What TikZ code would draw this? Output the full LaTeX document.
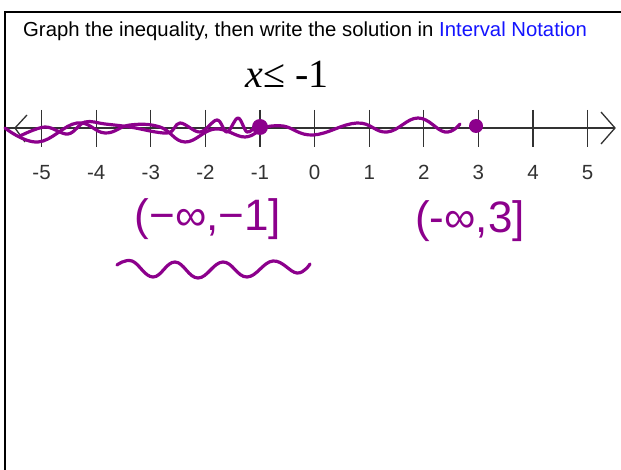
\documentclass[tikz,border=0pt]{standalone}
\usepackage{fontspec}
\setmainfont{Liberation Sans}
\newfontfamily\timesf{Liberation Serif}
\definecolor{ink}{RGB}{140,0,140}
\definecolor{axisgray}{RGB}{50,50,50}
\definecolor{notblue}{RGB}{20,20,255}
\begin{document}
\begin{tikzpicture}[x=1pt,y=-1pt,
  inkline/.style={draw=ink,line width=3.2pt,line cap=round,line join=round},
  tickmark/.style={draw=axisgray,line width=1.3pt},
  ticklabel/.style={text=axisgray,font=\fontsize{20.5}{22}\selectfont,inner sep=0pt,anchor=base},
  inktext/.style={text=ink,inner sep=0pt}]
\useasboundingbox (0,0) rectangle (621,470);
\fill[white] (0,0) rectangle (621,470);
% frame
\draw[line width=2pt] (5,471) -- (5,12) -- (622,12);
% title
\node[anchor=base west,inner sep=0pt,font=\fontsize{20.3}{24}\selectfont] (title) at (23,37)
  {Graph the inequality, then write the solution in \textcolor{notblue}{Interval Notation}};
\node[anchor=base,inner sep=0pt,font=\timesf\fontsize{40}{44}\selectfont] (ineq) at (287,88)
  {\textit{x}≤ -1};
% number line
\coordinate (left) at (5,128);
\coordinate (right) at (615,128);
\draw[draw=axisgray,line width=1.3pt] (left) -- (right);
\draw[draw=axisgray,line width=1.3pt] (27,115) -- (15,128) -- (25,142);
\draw[draw=axisgray,line width=1.3pt] (601,112) -- (615,128) -- (601,144);
\foreach \n in {-5,...,5}{
  \pgfmathsetmacro{\xx}{314.6+54.6*\n}
  \draw[tickmark] (\xx,110) -- (\xx,147);
  \node[ticklabel] (lab\n) at (\xx,180) {\ifnum\n<0 -\the\numexpr-\n\relax\else\n\fi};
}
% ink squiggles on the line
\draw[inkline] plot[smooth,tension=0.7] coordinates {(5,128) (38,142) (77,123) (105,133) (130,125) (160,127) (185,142) (215,129) (245,137) (261,128)};
\draw[inkline] plot[smooth,tension=0.6] coordinates {(20,136) (45,127) (68,134) (85,122) (105,124) (130,127) (167,133) (180,123) (200,132) (217,120) (227,132) (238,118) (247,132) (256,126)};
\draw[inkline] plot[smooth,tension=0.7] coordinates {(261,128) (283,126) (313,135) (357,123) (387,132) (418,118) (445,132) (460,124)};
\fill[ink] (260,127) circle (8);
\fill[ink] (476,126) circle (7);
% intervals
\node[inktext,font=\fontsize{44}{48}\selectfont] (int1) at (208,219) {(−∞,−1]};
\node[inktext,font=\fontsize{44}{48}\selectfont] (int2) at (470,221) {(-∞,3]};
% underline wave
\draw[inkline] plot[smooth,tension=0.7] coordinates {(117,265) (132,261) (153,277) (175,262) (198,278) (223,262) (247,277) (273,261) (297,273) (310,264)};
\end{tikzpicture}
\end{document}
